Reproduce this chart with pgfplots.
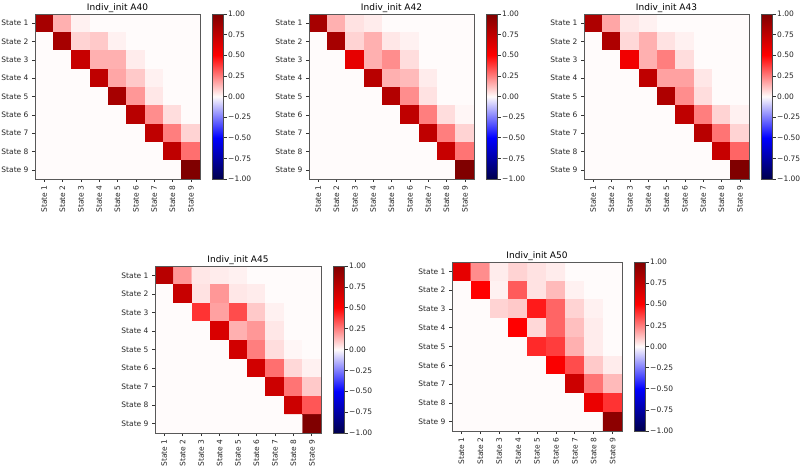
\documentclass[border=0pt]{standalone}
\usepackage{fontspec}
\setmainfont{DejaVu Sans}
\usepackage{pgfplots}
\pgfplotsset{compat=1.18}

% seismic diverging colormap
\pgfplotsset{
  colormap={seismic}{rgb=(0,0,0.3) rgb=(0,0,1) rgb=(1,0.985,0.985) rgb=(1,0,0) rgb=(0.5,0,0)},
  hm/.style={
    scale only axis, width=165pt, height=165pt, anchor=south west,
    xmin=0.5, xmax=9.5, ymin=0.5, ymax=9.5, y dir=reverse,
    axis on top, enlargelimits=false,
    xtick={1,...,9}, ytick={1,...,9},
    xticklabels={State 1,State 2,State 3,State 4,State 5,State 6,State 7,State 8,State 9},
    yticklabels={State 1,State 2,State 3,State 4,State 5,State 6,State 7,State 8,State 9},
    xticklabel style={rotate=90, anchor=east},
    tick label style={font=\fontsize{7.5}{9}\selectfont, text=black!85},
    tick align=outside, tick pos=left, major tick length=3pt,
    tick style={black!80, line width=0.6pt},
    axis line style={black!65, line width=0.8pt},
    title style={font=\fontsize{9}{10}\selectfont, yshift=-8pt},
    colormap name=seismic, point meta min=-1, point meta max=1,
    colorbar,
    colorbar style={
      scale only axis, width=11pt,
      height=\pgfkeysvalueof{/pgfplots/parent axis height},
      at={(parent axis.north east)}, anchor=north west, xshift=4pt,
      ytick={-1,-0.75,-0.5,-0.25,0,0.25,0.5,0.75,1},
      yticklabels={−1.00,−0.75,−0.50,−0.25,0.00,0.25,0.50,0.75,1.00},
      ytick pos=right, tick align=outside, major tick length=3pt,
      tick style={black!80, line width=0.6pt},
      axis line style={black!70, line width=0.6pt},
      yticklabel style={font=\fontsize{7.5}{9}\selectfont, text=black!85, inner sep=1.5pt},
    },
  },
  hmplot/.style={matrix plot*, mesh/cols=9, point meta=explicit},
}

\begin{document}
\begin{tikzpicture}
\useasboundingbox (0,0) rectangle (800pt,468pt);

% ---- Indiv_init A40
\begin{axis}[hm, at={(35pt,289pt)}, title={Indiv\_init A40}]
\addplot[hmplot] coordinates {
(1,1)[.85] (2,1)[.15] (3,1)[.02] (4,1)[0] (5,1)[0] (6,1)[0] (7,1)[0] (8,1)[0] (9,1)[0]
(1,2)[0] (2,2)[.85] (3,2)[.08] (4,2)[.10] (5,2)[.02] (6,2)[0] (7,2)[0] (8,2)[0] (9,2)[0]
(1,3)[0] (2,3)[0] (3,3)[.72] (4,3)[.15] (5,3)[.15] (6,3)[.03] (7,3)[0] (8,3)[0] (9,3)[0]
(1,4)[0] (2,4)[0] (3,4)[0] (4,4)[.75] (5,4)[.17] (6,4)[.10] (7,4)[.02] (8,4)[0] (9,4)[0]
(1,5)[0] (2,5)[0] (3,5)[0] (4,5)[0] (5,5)[.85] (6,5)[.20] (7,5)[.04] (8,5)[0] (9,5)[0]
(1,6)[0] (2,6)[0] (3,6)[0] (4,6)[0] (5,6)[0] (6,6)[.78] (7,6)[.22] (8,6)[.06] (9,6)[0]
(1,7)[0] (2,7)[0] (3,7)[0] (4,7)[0] (5,7)[0] (6,7)[0] (7,7)[.75] (8,7)[.25] (9,7)[.08]
(1,8)[0] (2,8)[0] (3,8)[0] (4,8)[0] (5,8)[0] (6,8)[0] (7,8)[0] (8,8)[.75] (9,8)[.28]
(1,9)[0] (2,9)[0] (3,9)[0] (4,9)[0] (5,9)[0] (6,9)[0] (7,9)[0] (8,9)[0] (9,9)[1.0]
};
\end{axis}

% ---- Indiv_init A42
\begin{axis}[hm, at={(309pt,289pt)}, title={Indiv\_init A42}]
\addplot[hmplot] coordinates {
(1,1)[.85] (2,1)[.15] (3,1)[.05] (4,1)[.03] (5,1)[0] (6,1)[0] (7,1)[0] (8,1)[0] (9,1)[0]
(1,2)[0] (2,2)[.85] (3,2)[.08] (4,2)[.15] (5,2)[.04] (6,2)[.02] (7,2)[0] (8,2)[0] (9,2)[0]
(1,3)[0] (2,3)[0] (3,3)[.60] (4,3)[.15] (5,3)[.22] (6,3)[.06] (7,3)[0] (8,3)[0] (9,3)[0]
(1,4)[0] (2,4)[0] (3,4)[0] (4,4)[.78] (5,4)[.15] (6,4)[.13] (7,4)[.03] (8,4)[0] (9,4)[0]
(1,5)[0] (2,5)[0] (3,5)[0] (4,5)[0] (5,5)[.80] (6,5)[.22] (7,5)[.05] (8,5)[0] (9,5)[0]
(1,6)[0] (2,6)[0] (3,6)[0] (4,6)[0] (5,6)[0] (6,6)[.75] (7,6)[.25] (8,6)[.06] (9,6)[.01]
(1,7)[0] (2,7)[0] (3,7)[0] (4,7)[0] (5,7)[0] (6,7)[0] (7,7)[.75] (8,7)[.25] (9,7)[.08]
(1,8)[0] (2,8)[0] (3,8)[0] (4,8)[0] (5,8)[0] (6,8)[0] (7,8)[0] (8,8)[.72] (9,8)[.27]
(1,9)[0] (2,9)[0] (3,9)[0] (4,9)[0] (5,9)[0] (6,9)[0] (7,9)[0] (8,9)[0] (9,9)[1.0]
};
\end{axis}

% ---- Indiv_init A43
\begin{axis}[hm, at={(584pt,289pt)}, title={Indiv\_init A43}]
\addplot[hmplot] coordinates {
(1,1)[.82] (2,1)[.17] (3,1)[.04] (4,1)[.02] (5,1)[0] (6,1)[0] (7,1)[0] (8,1)[0] (9,1)[0]
(1,2)[0] (2,2)[.82] (3,2)[.07] (4,2)[.15] (5,2)[.05] (6,2)[.02] (7,2)[0] (8,2)[0] (9,2)[0]
(1,3)[0] (2,3)[0] (3,3)[.55] (4,3)[.15] (5,3)[.25] (6,3)[.06] (7,3)[0] (8,3)[0] (9,3)[0]
(1,4)[0] (2,4)[0] (3,4)[0] (4,4)[.75] (5,4)[.18] (6,4)[.18] (7,4)[.04] (8,4)[0] (9,4)[0]
(1,5)[0] (2,5)[0] (3,5)[0] (4,5)[0] (5,5)[.82] (6,5)[.22] (7,5)[.06] (8,5)[0] (9,5)[0]
(1,6)[0] (2,6)[0] (3,6)[0] (4,6)[0] (5,6)[0] (6,6)[.75] (7,6)[.25] (8,6)[.08] (9,6)[.02]
(1,7)[0] (2,7)[0] (3,7)[0] (4,7)[0] (5,7)[0] (6,7)[0] (7,7)[.78] (8,7)[.27] (9,7)[.08]
(1,8)[0] (2,8)[0] (3,8)[0] (4,8)[0] (5,8)[0] (6,8)[0] (7,8)[0] (8,8)[.72] (9,8)[.30]
(1,9)[0] (2,9)[0] (3,9)[0] (4,9)[0] (5,9)[0] (6,9)[0] (7,9)[0] (8,9)[0] (9,9)[1.0]
};
\end{axis}

% ---- Indiv_init A45
\begin{axis}[hm, at={(155pt,35pt)}, width=166pt, height=167pt, title={Indiv\_init A45}]
\addplot[hmplot] coordinates {
(1,1)[.78] (2,1)[.20] (3,1)[.04] (4,1)[.03] (5,1)[.02] (6,1)[0] (7,1)[0] (8,1)[0] (9,1)[0]
(1,2)[0] (2,2)[.72] (3,2)[.05] (4,2)[.20] (5,2)[.04] (6,2)[.03] (7,2)[0] (8,2)[0] (9,2)[0]
(1,3)[0] (2,3)[0] (3,3)[.40] (4,3)[.18] (5,3)[.35] (6,3)[.10] (7,3)[.02] (8,3)[0] (9,3)[0]
(1,4)[0] (2,4)[0] (3,4)[0] (4,4)[.65] (5,4)[.15] (6,4)[.20] (7,4)[.04] (8,4)[0] (9,4)[0]
(1,5)[0] (2,5)[0] (3,5)[0] (4,5)[0] (5,5)[.68] (6,5)[.25] (7,5)[.06] (8,5)[.01] (9,5)[0]
(1,6)[0] (2,6)[0] (3,6)[0] (4,6)[0] (5,6)[0] (6,6)[.68] (7,6)[.28] (8,6)[.07] (9,6)[.02]
(1,7)[0] (2,7)[0] (3,7)[0] (4,7)[0] (5,7)[0] (6,7)[0] (7,7)[.70] (8,7)[.27] (9,7)[.10]
(1,8)[0] (2,8)[0] (3,8)[0] (4,8)[0] (5,8)[0] (6,8)[0] (7,8)[0] (8,8)[.70] (9,8)[.33]
(1,9)[0] (2,9)[0] (3,9)[0] (4,9)[0] (5,9)[0] (6,9)[0] (7,9)[0] (8,9)[0] (9,9)[1.0]
};
\end{axis}

% ---- Indiv_init A50
\begin{axis}[hm, at={(452pt,37pt)}, width=170pt, height=169pt, title={Indiv\_init A50}]
\addplot[hmplot] coordinates {
(1,1)[.60] (2,1)[.22] (3,1)[.03] (4,1)[.08] (5,1)[.05] (6,1)[.03] (7,1)[0] (8,1)[0] (9,1)[0]
(1,2)[0] (2,2)[.50] (3,2)[.02] (4,2)[.32] (5,2)[.05] (6,2)[.13] (7,2)[.02] (8,2)[0] (9,2)[0]
(1,3)[0] (2,3)[0] (3,3)[.08] (4,3)[.10] (5,3)[.45] (6,3)[.30] (7,3)[.08] (8,3)[.02] (9,3)[0]
(1,4)[0] (2,4)[0] (3,4)[0] (4,4)[.50] (5,4)[.07] (6,4)[.30] (7,4)[.12] (8,4)[.03] (9,4)[0]
(1,5)[0] (2,5)[0] (3,5)[0] (4,5)[0] (5,5)[.42] (6,5)[.38] (7,5)[.15] (8,5)[.03] (9,5)[0]
(1,6)[0] (2,6)[0] (3,6)[0] (4,6)[0] (5,6)[0] (6,6)[.52] (7,6)[.35] (8,6)[.10] (9,6)[.03]
(1,7)[0] (2,7)[0] (3,7)[0] (4,7)[0] (5,7)[0] (6,7)[0] (7,7)[.70] (8,7)[.27] (9,7)[.13]
(1,8)[0] (2,8)[0] (3,8)[0] (4,8)[0] (5,8)[0] (6,8)[0] (7,8)[0] (8,8)[.58] (9,8)[.40]
(1,9)[0] (2,9)[0] (3,9)[0] (4,9)[0] (5,9)[0] (6,9)[0] (7,9)[0] (8,9)[0] (9,9)[.95]
};
\end{axis}
\end{tikzpicture}
\end{document}
